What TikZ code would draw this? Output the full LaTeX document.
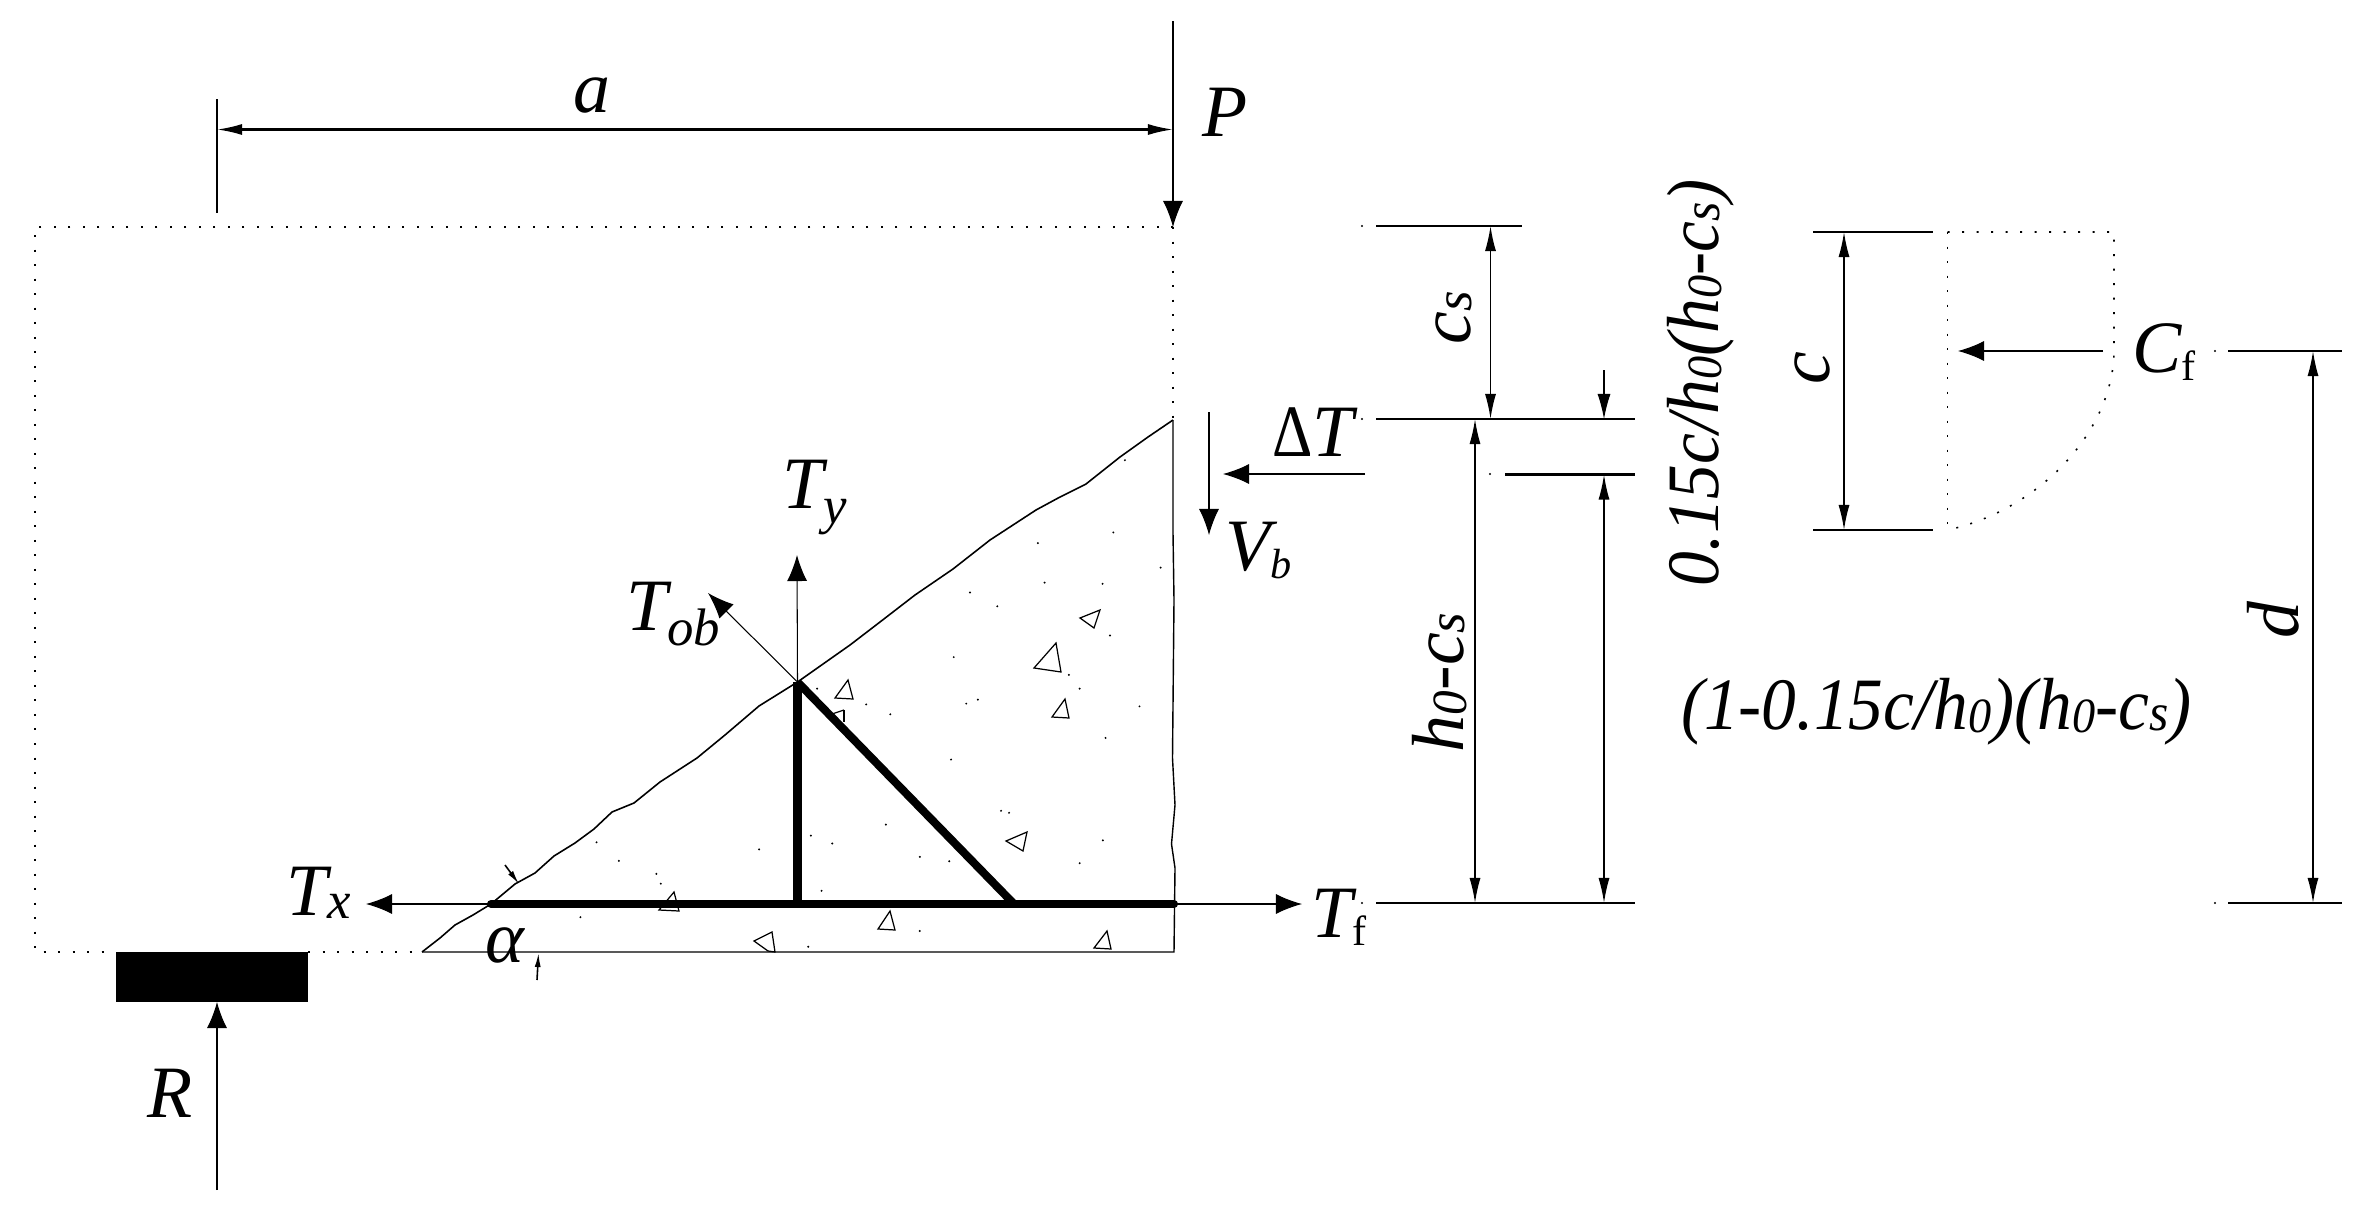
\documentclass[tikz,border=0pt]{standalone}
\usepackage{fontspec}
\setmainfont{Liberation Serif}
\usetikzlibrary{arrows.meta}
\newcommand{\dn}[3]{\raisebox{-#1}{\fontsize{#2}{#2}\selectfont #3}}
\newcommand{\zr}{\dn{1pt}{14}{0}}
\newcommand{\es}{\dn{0.5pt}{15}{s}}
\tikzset{
  lab/.style={inner sep=0pt,outer sep=0pt,anchor=base west,font=\fontsize{21}{21}\selectfont\itshape},
  thinl/.style={line width=0.3pt},
  diml/.style={line width=0.42pt,{Latex[length=0.25cm,width=0.11cm]}-{Latex[length=0.25cm,width=0.11cm]}},
  bigarrow/.style={line width=0.3pt,-{Latex[length=0.26cm,width=0.2cm]}},
  smallarrow/.style={line width=0.3pt,-{Latex[length=0.25cm,width=0.13cm]}},
  tickarrow/.style={line width=0.45pt,-{Latex[length=0.14cm,width=0.06cm]}},
  dots/.style={line width=0.45pt,dash pattern=on 0.02cm off 0.125cm},
  bar/.style={line width=2.3pt,line cap=round},
  web/.style={line width=2.3pt},
  agg/.style={line width=0.35pt}
}
\begin{document}
\begin{tikzpicture}[x=0.01cm,y=-0.01cm]
\useasboundingbox (0,0) rectangle (2363,1218);
% key points
\coordinate (tl) at (35,227);
\coordinate (tr) at (1173,227);
\coordinate (bl) at (35,952);
\coordinate (sl) at (116,952);
\coordinate (sr) at (308,952);
\coordinate (crackbot) at (422,952);
\coordinate (cracktop) at (1173,420);
\coordinate (br) at (1174,952);
\coordinate (barL) at (491,904);
\coordinate (barR) at (1174,904);
\coordinate (J) at (797.5,682);
\coordinate (Jb) at (797.5,904);
\coordinate (Db) at (1014,904);
% beam outline
\draw[dots] (tr) -- (tl) -- (bl) -- (sl);
\draw[dots] (sr) -- (crackbot);
\draw[dots] (tr) -- (cracktop);
\draw[line width=0.4pt] (crackbot) -- (br) -- (1175,868) -- (1171.5,844) -- (1175,805) -- (1172.5,758) -- (1174,600) -- (1173,533) -- (cracktop);
\draw[line width=0.45pt] (crackbot) -- (440,938) -- (455,925) -- (473,915) -- (barL) -- (515,884) -- (535,873) -- (554,856) -- (575,843) -- (594,829) -- (612,812) -- (634,803) -- (660,782) -- (697,758) -- (725,735) -- (759,706) -- (J) -- (850,645) -- (880,622) -- (915,595) -- (953,569) -- (990,540) -- (1036,510) -- (1060,497) -- (1086,484) -- (1120,457) -- (1148,437) -- (cracktop);
% support
\fill (sl) rectangle (308,1002);
\coordinate (Rtail) at (217,1190);
\coordinate (Rtip) at (217,1002);
\draw[bigarrow] (Rtail) -- (Rtip);
% reinforcement
\draw[bar] (barL) -- (barR);
\draw[web] (J) -- (Jb);
\draw[web] (J) -- (Db);
% forces
\coordinate (Ptop) at (1173,21);
\draw[bigarrow] (Ptop) -- (tr);
\coordinate (Tyt) at (797,555);
\coordinate (Tobt) at (708,593);
\coordinate (Txt) at (366,904);
\coordinate (Tft) at (1302,904);
\draw[bigarrow] (J) -- (Tyt);
\draw[bigarrow] (J) -- (Tobt);
\draw[bigarrow] (barL) -- (Txt);
\draw[bigarrow] (barR) -- (Tft);
\coordinate (Vs) at (1209,412);
\coordinate (Ve) at (1209,535);
\draw[bigarrow] (Vs) -- (Ve);
\coordinate (DTs) at (1365,474);
\coordinate (DTe) at (1223,474);
\draw[bigarrow] (DTs) -- (DTe);
% alpha marks
\draw[tickarrow] (505,865) -- (519,884);
\draw[tickarrow] (537,980) -- (538.5,953);
% dimension a
\coordinate (aL) at (217,99);
\coordinate (aLb) at (217,213);
\draw[thinl] (aL) -- (aLb);
\coordinate (a1) at (217,129.5);
\coordinate (a2) at (1173,129.5);
\draw[diml,line width=0.6pt] (a1) -- (a2);
% right-hand dimension lines
\coordinate (ll1) at (1376,226); \coordinate (ll1e) at (1522,226);
\coordinate (ll2) at (1376,419); \coordinate (ll2e) at (1635,419);
\coordinate (ll3) at (1505,474.5); \coordinate (ll3e) at (1635,474.5);
\coordinate (ll4) at (1376,903); \coordinate (ll4e) at (1635,903);
\draw[thinl] (ll1) -- (ll1e);
\draw[thinl] (ll2) -- (ll2e);
\draw[line width=0.7pt] (ll3) -- (ll3e);
\draw[thinl] (ll4) -- (ll4e);
\draw[diml] (1490.5,226) -- (1490.5,419);
\draw[diml] (1475,419) -- (1475,903);
\draw[diml] (1604,474.5) -- (1604,903);
\draw[smallarrow] (1604,370) -- (1604,419);
% stress block
\coordinate (c1) at (1813,232); \coordinate (c1e) at (1933,232);
\coordinate (c2) at (1813,530); \coordinate (c2e) at (1933,530);
\draw[line width=0.6pt] (c1) -- (c1e);
\draw[thinl] (c2) -- (c2e);
\draw[diml] (1844,232) -- (1844,530);
\draw[dots] (1947.5,232) -- (2114,232) -- (2114,350) .. controls (2114,430) and (2040,510) .. (1947.5,530);
\draw[dots] (1947.5,232) -- (1947.5,530);
\coordinate (Cs) at (2103,351);
\coordinate (Ce) at (1958,351);
\draw[bigarrow] (Cs) -- (Ce);
% dimension d
\coordinate (d1) at (2228,351); \coordinate (d1e) at (2342,351);
\coordinate (d2) at (2228,903); \coordinate (d2e) at (2342,903);
\draw[thinl] (d1) -- (d1e);
\draw[thinl] (d2) -- (d2e);
\draw[diml] (2313,351) -- (2313,903);
% stray dots
\foreach \x/\y in {1362/226,1362/419,1362/903,1490/474,2215/351,2215/903}
  \fill (\x,\y) circle[radius=1.1];
% aggregate
\draw[agg] (1100,610) -- (1080,618) -- (1094,628) -- cycle;
\draw[agg] (1056,643) -- (1034,668) -- (1061,672) -- cycle;
\draw[agg] (848,680) -- (835,698) -- (853,699) -- cycle;
\draw[agg] (844,710) -- (832,714);
\draw[agg] (844,710) -- (844,722);
\draw[agg] (1065,699) -- (1052,717) -- (1069,718) -- cycle;
\draw[agg] (1027,832) -- (1006,841) -- (1023,851) -- cycle;
\draw[agg] (674,892) -- (659,910) -- (679,911) -- cycle;
\draw[agg] (890,911) -- (878,929) -- (895,930) -- cycle;
\draw[agg] (772,932) -- (754,941) -- (768,951) -- (775,952) -- cycle;
\draw[agg] (1107,931) -- (1094,948) -- (1111,949) -- cycle;
\foreach \x/\y in {1243/90,1068/145,1197/190,1209/225,1095/253,1082/263,1276/270,997/290,970/265,1238/350,1065/405,1121/535,1130/540,1235/610,992/570,908/598,932/618,850/633,693/662,668/615,1030/652,1063/663,1209/668,735/695,920/738,740/720,650/805,1030/840,905/880,915/225}
  \fill ({\x*.893},{\y*.394+600}) circle[radius=1.1];
\foreach \x/\y in {1343/1348,1252/1375,1357/1165,1400/1437,1260/1475,1330/1478,1170/1500,1203/1535}
  \fill ({\x*.829},{\y*.395}) circle[radius=1.1];
% labels
\node[lab] (la) at (573,112) {a};
\node[lab] (lP) at (1202,136) {P};
\node[lab] (lTy) at (782,508) {T\dn{4.3pt}{15}{y}};
\node[lab] (lTob) at (626,630) {T\dn{4.3pt}{15}{ob}};
\node[lab] (lTx) at (286,915) {T\dn{1.1pt}{15}{x}};
\node[lab] (lTf) at (1311,937) {T\dn{2.4pt}{12}{\upshape f}};
\node[lab] (lR) at (147,1117) {R};
\node[lab] (lal) at (485,962) {α};
\node[lab] (lVb) at (1225,570) {V\dn{2.3pt}{12}{b}};
\node[lab] (lDT) at (1272,456) {\scalebox{0.85}[1]{\upshape Δ}T};
\node[lab] (lCf) at (2132,372) {C\dn{2.3pt}{12}{\upshape f}};
\node[lab,rotate=90] (lcs) at (1470,344) {c\es};
\node[lab,rotate=90] (lhc) at (1463,752) {h\zr-c\es};
\node[lab,rotate=90] (l015) at (1718,586) {\scalebox{0.94}[1]{0.15c/h\zr(h\zr-c\es)}};
\node[lab,rotate=90] (lc) at (1829,384) {c};
\node[lab,rotate=90] (ld) at (2298,638) {d};
\node[lab] (lbig) at (1681,729) {\scalebox{0.94}[1]{(1-0.15c/h\zr)(h\zr-c\es)}};
\end{tikzpicture}
\end{document}
